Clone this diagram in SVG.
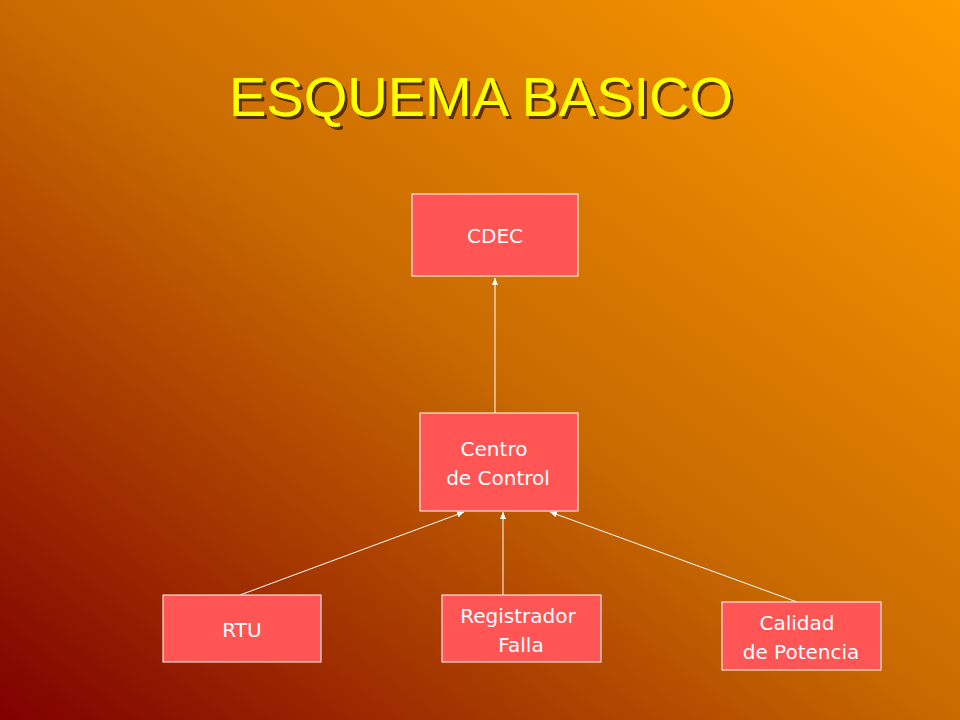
<svg xmlns="http://www.w3.org/2000/svg" width="960" height="720" viewBox="0 0 960 720">
<defs>
<linearGradient id="bg" x1="0" y1="1" x2="1" y2="0">
<stop offset="0" stop-color="#800000"/>
<stop offset="0.5" stop-color="#C86A00"/>
<stop offset="1" stop-color="#FF9C00"/>
</linearGradient>
<marker id="ar" markerWidth="8" markerHeight="8" refX="7" refY="4" orient="auto" markerUnits="userSpaceOnUse">
<path d="M0,1 L7,4 L0,7 Z" fill="#FFFFFF"/>
</marker>
<filter id="sh"><feDropShadow dx="3" dy="3" stdDeviation="0.5" flood-color="#3a1a00" flood-opacity="0.8"/></filter>
</defs>
<style>
.box{fill:#FF5555;stroke:#FFFFFF;stroke-width:1}
.t{font-family:"DejaVu Sans",sans-serif;font-size:20px;fill:#FFFFFF;text-anchor:middle}
.c{stroke:#FFFFFF;stroke-width:1;fill:none;marker-end:url(#ar)}
</style>
<rect width="960" height="720" fill="url(#bg)"/>
<text x="481" y="116" font-family="Liberation Sans,sans-serif" font-size="56" fill="#FFFF00" text-anchor="middle" filter="url(#sh)">ESQUEMA BASICO</text>
<g id="connectors">
<line class="c" x1="495" y1="413" x2="495" y2="278"/>
<line class="c" x1="240" y1="595" x2="464" y2="512"/>
<line class="c" x1="503" y1="595" x2="503" y2="512"/>
<line class="c" x1="797" y1="602" x2="550" y2="512"/>
</g>
<g id="cdec"><rect class="box" x="412" y="194" width="166" height="82"/><text class="t" x="495" y="243">CDEC</text></g>
<g id="centro"><rect class="box" x="420" y="413" width="158" height="98"/><text class="t" x="494" y="456">Centro</text><text class="t" x="498" y="485">de Control</text></g>
<g id="rtu"><rect class="box" x="163" y="595" width="158" height="67"/><text class="t" x="242" y="637">RTU</text></g>
<g id="registrador"><rect class="box" x="442" y="595" width="159" height="67"/><text class="t" x="518" y="623">Registrador</text><text class="t" x="521" y="652">Falla</text></g>
<g id="calidad"><rect class="box" x="722" y="602" width="159" height="68"/><text class="t" x="797" y="630">Calidad</text><text class="t" x="801" y="659">de Potencia</text></g>
</svg>
